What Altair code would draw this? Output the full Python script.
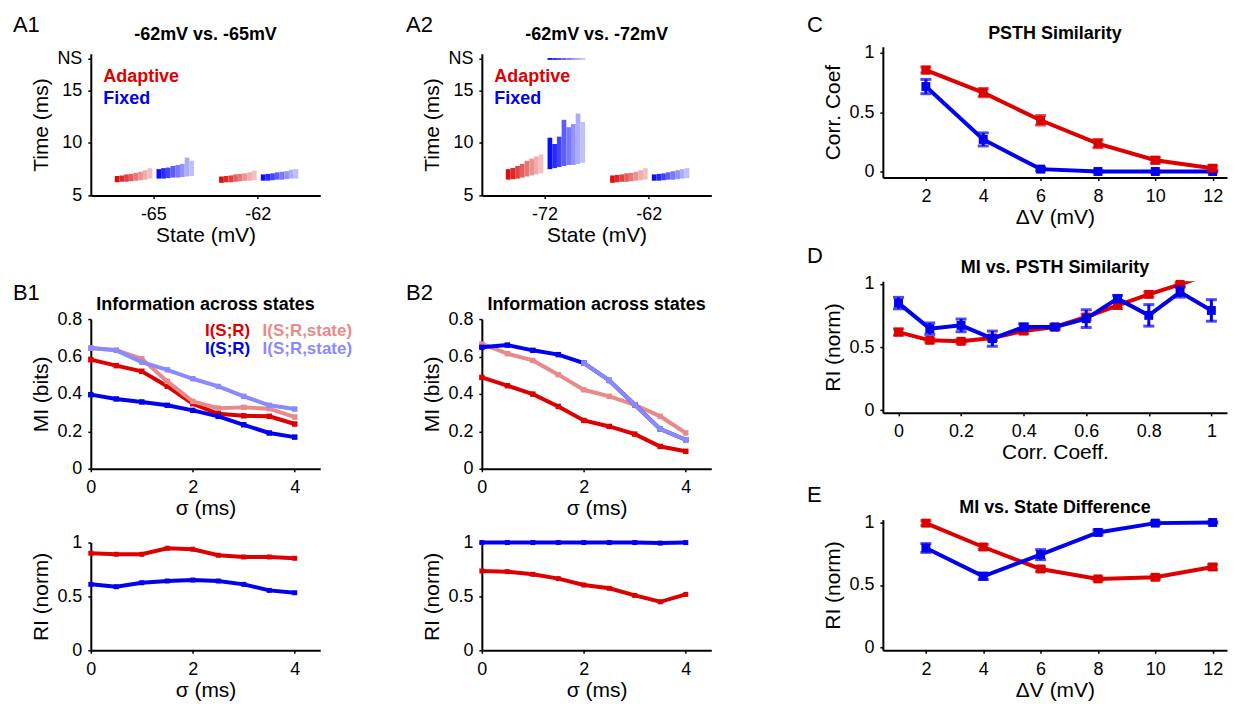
import altair as alt
import pandas as pd

FONT = "Liberation Sans"
RED, BLUE = "#dd0000", "#0000ee"
LRED, LBLUE = "#e98a8a", "#8a8aff"
REDS = ["#d90000", "#dc1c1c", "#e03838", "#e45454", "#e87070", "#ec8c8c", "#f0a8a8", "#f3bcbc"]
BLUES = ["#0000ff", "#1c1cff", "#3838ff", "#5454ff", "#7070ff", "#8c8cff", "#a8a8ff", "#bcbcff"]

# ---------------- data ----------------
A1_STATES = ["-65", "-62"]
A2_STATES = ["-72", "-62"]
A1_ADAPT_LO = [[6.25, 6.3, 6.3, 6.35, 6.4, 6.45, 6.5, 6.6], [6.2, 6.25, 6.25, 6.3, 6.35, 6.4, 6.4, 6.45]]
A1_ADAPT_HI = [[6.85, 6.9, 7.0, 7.05, 7.15, 7.25, 7.4, 7.6], [6.8, 6.85, 6.9, 7.0, 7.05, 7.1, 7.2, 7.35]]
A1_FIXED_LO = [[6.6, 6.6, 6.65, 6.7, 6.7, 6.75, 6.8, 6.85], [6.4, 6.4, 6.45, 6.5, 6.5, 6.55, 6.6, 6.6]]
A1_FIXED_HI = [[7.5, 7.6, 7.65, 7.8, 7.9, 8.0, 8.6, 8.3], [7.0, 7.05, 7.1, 7.2, 7.25, 7.3, 7.45, 7.5]]
A1_FIXED_NS = [[0] * 8, [0] * 8]
A2_ADAPT_LO = [[6.5, 6.55, 6.6, 6.7, 6.8, 6.9, 7.0, 7.1], [6.2, 6.25, 6.3, 6.3, 6.35, 6.4, 6.45, 6.5]]
A2_ADAPT_HI = [[7.5, 7.6, 7.8, 8.0, 8.3, 8.5, 8.7, 8.9], [6.9, 6.95, 7.0, 7.1, 7.15, 7.25, 7.4, 7.6]]
A2_FIXED_LO = [[7.5, 7.6, 7.7, 7.8, 7.9, 7.9, 8.0, 8.1], [6.4, 6.4, 6.45, 6.5, 6.5, 6.55, 6.6, 6.65]]
A2_FIXED_HI = [[10.5, 9.9, 10.6, 12.2, 11.5, 11.8, 12.8, 12.0], [7.0, 7.05, 7.1, 7.2, 7.3, 7.4, 7.5, 7.6]]
A2_FIXED_NS = [[1] * 8, [0] * 8]
NS_VALUE = 18

SIGMA = [0, 0.5, 1, 1.5, 2, 2.5, 3, 3.5, 4]
B1_ISR_ADAPT = [0.583, 0.551, 0.521, 0.441, 0.348, 0.294, 0.283, 0.280, 0.239]
B1_ISRS_ADAPT = [0.645, 0.633, 0.588, 0.467, 0.360, 0.324, 0.328, 0.321, 0.276]
B1_ISR_FIXED = [0.396, 0.373, 0.357, 0.339, 0.312, 0.280, 0.235, 0.191, 0.169]
B1_ISRS_FIXED = [0.645, 0.633, 0.570, 0.529, 0.481, 0.440, 0.387, 0.339, 0.319]
B1_RI_ADAPT = [0.901, 0.891, 0.891, 0.947, 0.938, 0.882, 0.866, 0.866, 0.854]
B1_RI_FIXED = [0.612, 0.590, 0.627, 0.643, 0.652, 0.643, 0.612, 0.556, 0.534]
B2_ISR_ADAPT = [0.488, 0.444, 0.399, 0.333, 0.258, 0.226, 0.185, 0.119, 0.093]
B2_ISRS_ADAPT = [0.667, 0.615, 0.579, 0.503, 0.422, 0.387, 0.342, 0.280, 0.191]
B2_ISR_FIXED = [0.649, 0.661, 0.633, 0.610, 0.565, 0.472, 0.342, 0.212, 0.155]
B2_ISRS_FIXED = [0.649, 0.661, 0.633, 0.610, 0.565, 0.472, 0.342, 0.212, 0.155]
B2_RI_ADAPT = [0.736, 0.730, 0.705, 0.665, 0.606, 0.575, 0.509, 0.450, 0.519]
B2_RI_FIXED = [1.0, 1.0, 1.0, 1.0, 1.0, 1.0, 1.0, 0.995, 1.0]
B_LEGEND = ["I(S;R)", "I(S;R,state)"]

DV = [2, 4, 6, 8, 10, 12]
C_ADAPT = [0.854, 0.664, 0.431, 0.235, 0.095, 0.028]
C_ADAPT_ERR = [0.025, 0.035, 0.04, 0.035, 0.025, 0.02]
C_FIXED = [0.715, 0.27, 0.02, 0.0, 0.0, 0.0]
C_FIXED_ERR = [0.06, 0.055, 0.015, 0.005, 0.005, 0.005]

CC = [0, 0.1, 0.2, 0.3, 0.4, 0.5, 0.6, 0.7, 0.8, 0.9, 1.0]
D_ADAPT = [0.618, 0.553, 0.545, 0.571, 0.626, 0.658, 0.737, 0.829, 0.916, 0.995, 1.08]
D_ADAPT_ERR = [0.025, 0.015, 0.015, 0.02, 0.02, 0.015, 0.02, 0.025, 0.02, 0.015, 0.02]
D_FIXED = [0.847, 0.645, 0.671, 0.566, 0.658, 0.658, 0.724, 0.882, 0.75, 0.934, 0.789]
D_FIXED_ERR = [0.045, 0.045, 0.05, 0.06, 0.025, 0.02, 0.07, 0.026, 0.085, 0.04, 0.085]

E_ADAPT = [0.992, 0.802, 0.627, 0.548, 0.561, 0.643]
E_ADAPT_ERR = [0.02, 0.02, 0.02, 0.015, 0.015, 0.02]
E_FIXED = [0.794, 0.569, 0.741, 0.918, 0.992, 0.997]
E_FIXED_ERR = [0.035, 0.025, 0.04, 0.02, 0.01, 0.005]


# ---------------- helpers ----------------
def sc(lo, hi):
    return alt.Scale(domain=[lo, hi], nice=False, zero=False)


def ax(values, title, label_expr=None):
    kw = dict(values=values, title=title, format="~g")
    if label_expr:
        kw["labelExpr"] = label_expr
    return alt.Axis(**kw)


def panel_label(txt, dx, dy):
    return alt.Chart(pd.DataFrame({"t": [txt]})).mark_text(
        align="left", baseline="alphabetic", fontSize=22, font=FONT, color="black"
    ).encode(text="t:N", x=alt.value(dx), y=alt.value(dy))


def panel_title(txt, width, dy):
    return alt.Chart(pd.DataFrame({"t": [txt]})).mark_text(
        align="center", baseline="alphabetic", fontSize=18, font=FONT, fontWeight="bold", color="black"
    ).encode(text="t:N", x=alt.value(width / 2), y=alt.value(dy))


def text_layer(df, color, xs, ys, xa, ya, size=18):
    return alt.Chart(df).mark_text(align="left", baseline="middle", fontSize=size, font=FONT,
                                   fontWeight="bold", color=color).encode(
        x=alt.X("x:Q", scale=xs, axis=xa), y=alt.Y("y:Q", scale=ys, axis=ya), text="t:N")


# ---------------- A panels ----------------
def scatter_panel(states, alo, ahi, flo, fhi, fns, title, label, label_dx):
    rows, ns_rows = [], []
    for s in range(2):
        for c in range(8):
            rows.append(dict(pos=s + 1, side="a", col=c, lo=alo[s][c], hi=ahi[s][c]))
            rows.append(dict(pos=s + 1, side="f", col=c, lo=flo[s][c], hi=fhi[s][c]))
            if fns[s][c]:
                ns_rows.append(dict(pos=s + 1, side="f", col=c, lo=NS_VALUE - 0.09, hi=NS_VALUE + 0.09))
    df = pd.DataFrame(rows)
    xs, ys = sc(0.4, 2.6), sc(5, 18.5)
    xa = ax([1, 2], "State (mV)", f"datum.value == 1 ? '{states[0]}' : '{states[1]}'")
    ya = ax([5, 10, 15, NS_VALUE], "Time (ms)", f"datum.value == {NS_VALUE} ? 'NS' : datum.value")

    def cluster(side, pal, data):
        off = -0.37 if side == "a" else 0.03
        return alt.Chart(data).transform_filter(f"datum.side == '{side}'").transform_calculate(
            x0=f"datum.pos + {off} + datum.col * 0.045",
            x1=f"datum.pos + {off} + datum.col * 0.045 + 0.045",
        ).mark_rect(opacity=0.95).encode(
            x=alt.X("x0:Q", scale=xs, axis=xa), x2="x1:Q",
            y=alt.Y("lo:Q", scale=ys, axis=ya), y2="hi:Q",
            color=alt.Color("col:O", scale=alt.Scale(domain=list(range(8)), range=pal), legend=None),
        )

    layers = [cluster("a", REDS, df), cluster("f", BLUES, df)]
    if ns_rows:
        layers.append(cluster("f", BLUES, pd.DataFrame(ns_rows)))
    leg_a = text_layer(pd.DataFrame({"t": ["Adaptive"], "x": [0.52], "y": [16.3]}), RED, xs, ys, xa, ya)
    leg_f = text_layer(pd.DataFrame({"t": ["Fixed"], "x": [0.52], "y": [14.15]}), BLUE, xs, ys, xa, ya)
    layers += [leg_a, leg_f, panel_label(label, label_dx, -22), panel_title(title, 230, -14)]
    return alt.layer(*layers).resolve_scale(color="independent").properties(width=230, height=142)


# ---------------- B panels ----------------
def line(x, y, color, xs, ys, xa, ya, sw=4, msize=30, filt=None):
    ch = alt.Chart(pd.DataFrame({"x": x, "y": y}))
    if filt:
        ch = ch.transform_filter(filt)
    return ch.mark_line(strokeWidth=sw, color=color,
                        point=alt.OverlayMarkDef(shape="square", size=msize, filled=True, color=color, opacity=1)
                        ).encode(x=alt.X("x:Q", scale=xs, axis=xa), y=alt.Y("y:Q", scale=ys, axis=ya))


def b_top(series, title, label, label_dx, legend=False):
    xs, ys = sc(0, 4.5), sc(0, 0.8)
    xa = ax([0, 2, 4], "σ (ms)")
    ya = ax([0, 0.2, 0.4, 0.6, 0.8], "MI (bits)")
    layers = [line(SIGMA, y, c, xs, ys, xa, ya, filt=f) for (y, c, f) in series]
    if legend:
        layers.append(text_layer(pd.DataFrame({"t": [B_LEGEND[0]], "x": [2.24], "y": [0.735]}), RED, xs, ys, xa, ya, 17))
        layers.append(text_layer(pd.DataFrame({"t": [B_LEGEND[1]], "x": [3.37], "y": [0.735]}), LRED, xs, ys, xa, ya, 17))
        layers.append(text_layer(pd.DataFrame({"t": [B_LEGEND[0]], "x": [2.24], "y": [0.638]}), BLUE, xs, ys, xa, ya, 17))
        layers.append(text_layer(pd.DataFrame({"t": [B_LEGEND[1]], "x": [3.37], "y": [0.638]}), LBLUE, xs, ys, xa, ya, 17))
    layers.append(panel_label(label, label_dx, -19))
    layers.append(panel_title(title, 230, -9))
    return alt.layer(*layers).properties(width=230, height=150)


def b_bottom(adapt, fixed):
    xs, ys = sc(0, 4.5), sc(0, 1)
    xa = ax([0, 2, 4], "σ (ms)")
    ya = ax([0, 0.5, 1], "RI (norm)")
    return alt.layer(line(SIGMA, adapt, RED, xs, ys, xa, ya, msize=25),
                     line(SIGMA, fixed, BLUE, xs, ys, xa, ya, msize=25)).properties(width=230, height=108)


# ---------------- C/D/E panels ----------------
def err_series(x, y, err, color, xs, ys, xa, ya, ymax=None):
    df = pd.DataFrame({"x": x, "y": y,
                       "lo": [v - e for v, e in zip(y, err)],
                       "hi": [v + e for v, e in zip(y, err)]})
    enc_x = alt.X("x:Q", scale=xs, axis=xa)
    base = alt.Chart(df)
    pts = base
    if ymax is not None:
        pts = base.transform_filter(f"datum.y <= {ymax}")
    ln = base.mark_line(strokeWidth=4, color=color, clip=ymax is not None).encode(
        x=enc_x, y=alt.Y("y:Q", scale=ys, axis=ya))
    rule = pts.mark_rule(strokeWidth=3, color=color).encode(
        x=enc_x, y=alt.Y("lo:Q", scale=ys, axis=ya), y2="hi:Q")
    cap_lo = pts.mark_tick(orient="horizontal", size=11, thickness=3, color=color).encode(
        x=enc_x, y=alt.Y("lo:Q", scale=ys, axis=ya))
    cap_hi = pts.mark_tick(orient="horizontal", size=11, thickness=3, color=color).encode(
        x=enc_x, y=alt.Y("hi:Q", scale=ys, axis=ya))
    sq = pts.mark_square(size=80, opacity=1, color=color).encode(
        x=enc_x, y=alt.Y("y:Q", scale=ys, axis=ya))
    return [ln, rule, cap_lo, cap_hi, sq]


def cde_panel(first, second, title, tdy, label, ldy, height):
    layers = first + second + [panel_label(label, -76, ldy), panel_title(title, 345, tdy)]
    return alt.layer(*layers).properties(width=345, height=height)


xs_dv = sc(0.5, 12.5)
xa_dv = ax(DV, "ΔV (mV)")
ysC, yaC = sc(-0.05, 1.05), ax([0, 0.5, 1], "Corr. Coef")
panelC = cde_panel(err_series(DV, C_FIXED, C_FIXED_ERR, BLUE, xs_dv, ysC, xa_dv, yaC),
                   err_series(DV, C_ADAPT, C_ADAPT_ERR, RED, xs_dv, ysC, xa_dv, yaC),
                   "PSTH Similarity", -7.5, "C", -15, 131)

xsD, xaD = sc(-0.05, 1.05), ax([0, 0.2, 0.4, 0.6, 0.8, 1], "Corr. Coeff.")
ysD, yaD = sc(-0.02, 1.02), ax([0, 0.5, 1], "RI (norm)")
panelD = cde_panel(err_series(CC, D_ADAPT, D_ADAPT_ERR, RED, xsD, ysD, xaD, yaD, ymax=1.02),
                   err_series(CC, D_FIXED, D_FIXED_ERR, BLUE, xsD, ysD, xaD, yaD),
                   "MI vs. PSTH Similarity", -8, "D", -18, 132)

ysE, yaE = sc(-0.02, 1.02), ax([0, 0.5, 1], "RI (norm)")
panelE = cde_panel(err_series(DV, E_ADAPT, E_ADAPT_ERR, RED, xs_dv, ysE, xa_dv, yaE),
                   err_series(DV, E_FIXED, E_FIXED_ERR, BLUE, xs_dv, ysE, xa_dv, yaE),
                   "MI vs. State Difference", -7, "E", -18, 131)

# ---------------- assemble ----------------
panelA1 = scatter_panel(A1_STATES, A1_ADAPT_LO, A1_ADAPT_HI, A1_FIXED_LO, A1_FIXED_HI, A1_FIXED_NS,
                        "-62mV vs. -65mV", "A1", -78)
panelA2 = scatter_panel(A2_STATES, A2_ADAPT_LO, A2_ADAPT_HI, A2_FIXED_LO, A2_FIXED_HI, A2_FIXED_NS,
                        "-62mV vs. -72mV", "A2", -76)
panelB1 = b_top([(B1_ISR_ADAPT, RED, None), (B1_ISR_FIXED, BLUE, None),
                 (B1_ISRS_ADAPT, LRED, None), (B1_ISRS_FIXED, LBLUE, None)],
                "Information across states", "B1", -78, legend=True)
panelB2 = b_top([(B2_ISR_ADAPT, RED, None), (B2_ISRS_ADAPT, LRED, None),
                 (B2_ISR_FIXED, BLUE, None), (B2_ISRS_FIXED, LBLUE, "datum.x >= 2")],
                "Information across states", "B2", -76)
panelB1b = b_bottom(B1_RI_ADAPT, B1_RI_FIXED)
panelB2b = b_bottom(B2_RI_ADAPT, B2_RI_FIXED)


def spacer(w, h):
    return alt.Chart(pd.DataFrame({"v": [0]})).mark_point(opacity=0, size=1).encode(
        x=alt.X("v:Q", axis=None), y=alt.Y("v:Q", axis=None)).properties(width=w, height=h)


col1 = alt.vconcat(spacer(230, 1), panelA1, spacer(230, 112), panelB1, spacer(230, 62), panelB1b,
                   spacing=6, bounds="flush")
col2 = alt.vconcat(spacer(230, 1), panelA2, spacer(230, 112), panelB2, spacer(230, 62), panelB2b,
                   spacing=6, bounds="flush")
col3 = alt.vconcat(panelC, spacer(345, 92), panelD, spacer(345, 95), panelE, spacing=6, bounds="flush")

chart = alt.hconcat(alt.hconcat(col1, col2, spacing=54), col3, spacing=96).configure_view(
    stroke=None
).configure_axis(
    domainColor="black", domainWidth=2, tickColor="black", tickWidth=1.5, tickSize=3,
    labelFont=FONT, titleFont=FONT, labelFontSize=18, titleFontSize=21,
    labelColor="black", titleColor="black", titleFontWeight="normal", grid=False,
    labelPadding=6, titlePadding=5, labelFlush=False, labelOverlap=False,
).configure_axisX(labelPadding=7, titlePadding=1)

chart.save("out.html", embed_options={"renderer": "svg", "actions": False})
